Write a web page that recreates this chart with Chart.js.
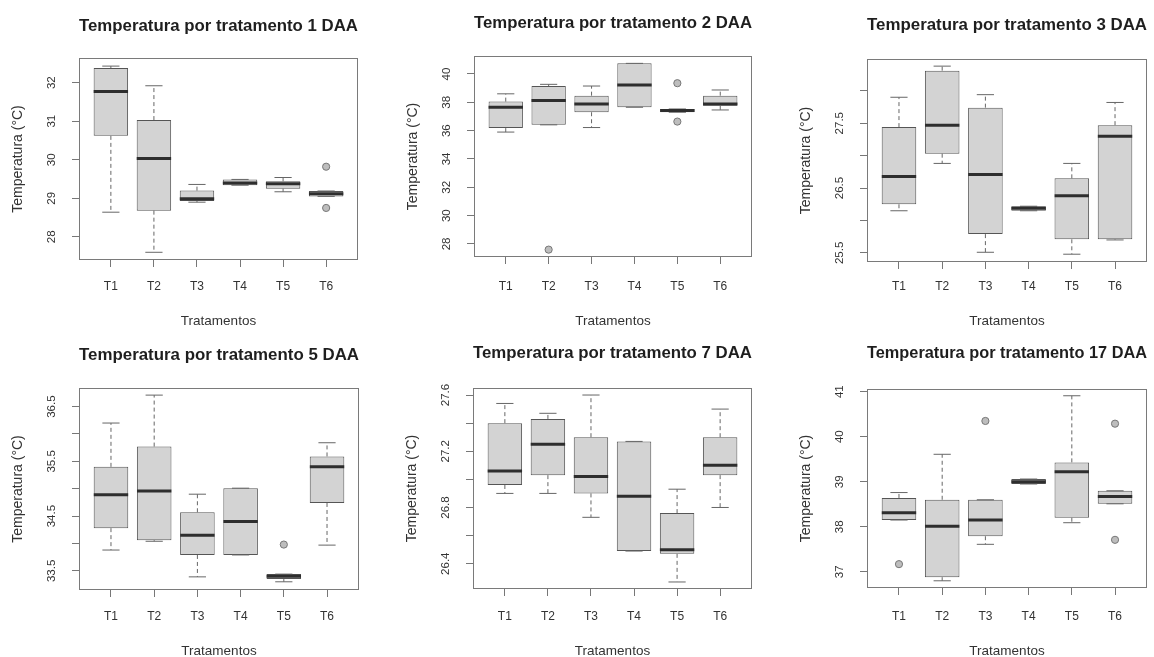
<!DOCTYPE html>
<html>
<head>
<meta charset="utf-8">
<script src="https://cdn.jsdelivr.net/npm/chart.js@4.4.1/dist/chart.umd.min.js"></script>
<style>
html,body{margin:0;padding:0;background:#fff;width:1154px;height:657px;overflow:hidden;position:relative}
canvas{position:absolute}
</style>
</head>
<body>
<canvas id="c0"></canvas><canvas id="c1"></canvas><canvas id="c2"></canvas>
<canvas id="c3"></canvas><canvas id="c4"></canvas><canvas id="c5"></canvas>
<script>
// ---------------- data ----------------
const CATEGORIES = ['T1', 'T2', 'T3', 'T4', 'T5', 'T6'];
const DAYS = [1, 2, 3, 5, 7, 17];
const X_RANGE = [0.26, 6.74];

// 1 DAA
const d1_lower  = [28.64, 27.60, 28.90, 29.34, 29.17, 29.05];
const d1_q1     = [30.62, 28.68, 28.93, 29.34, 29.25, 29.05];
const d1_median = [31.77, 30.03, 28.99, 29.40, 29.38, 29.12];
const d1_q3     = [32.38, 31.03, 29.20, 29.49, 29.44, 29.19];
const d1_upper  = [32.43, 31.92, 29.36, 29.49, 29.54, 29.19];
const d1_out    = [['T6', 29.82], ['T6', 28.75]];
const d1_yRange = [27.40, 32.64];
const d1_yTicks = [28, 29, 30, 31, 32];
const d1_yLabels = ['28', '29', '30', '31', '32'];

// 2 DAA
const d2_lower  = [35.90, 36.41, 36.22, 37.65, 37.30, 37.46];
const d2_q1     = [36.18, 36.41, 37.30, 37.65, 37.30, 37.75];
const d2_median = [37.65, 38.12, 37.89, 39.23, 37.42, 37.89];
const d2_q3     = [38.05, 39.15, 38.47, 40.75, 37.53, 38.47];
const d2_upper  = [38.60, 39.27, 39.15, 40.75, 37.53, 38.87];
const d2_out    = [['T2', 27.60], ['T5', 39.35], ['T5', 36.64]];
const d2_yRange = [27.08, 41.27];
const d2_yTicks = [28, 30, 32, 34, 36, 38, 40];
const d2_yLabels = ['28', '30', '32', '34', '36', '38', '40'];

// 3 DAA
const d3_lower  = [26.15, 26.88, 25.51, 26.15, 25.48, 25.70];
const d3_q1     = [26.25, 27.03, 25.79, 26.15, 25.71, 25.71];
const d3_median = [26.68, 27.47, 26.71, 26.19, 26.38, 27.30];
const d3_q3     = [27.44, 28.31, 27.74, 26.22, 26.65, 27.47];
const d3_upper  = [27.90, 28.38, 27.94, 26.22, 26.88, 27.82];
const d3_out    = [];
const d3_yRange = [25.36, 28.49];
const d3_yTicks = [25.5, 26, 26.5, 27, 27.5, 28];
const d3_yLabels = ['25.5', '', '26.5', '', '27.5', ''];

// 5 DAA
const d5_lower  = [33.88, 34.04, 33.39, 33.79, 33.30, 33.97];
const d5_q1     = [34.28, 34.06, 33.79, 33.79, 33.35, 34.74];
const d5_median = [34.89, 34.96, 34.15, 34.40, 33.40, 35.40];
const d5_q3     = [35.40, 35.77, 34.57, 35.01, 33.44, 35.59];
const d5_upper  = [36.20, 36.71, 34.90, 35.01, 33.44, 35.84];
const d5_out    = [['T5', 33.98]];
const d5_yRange = [33.15, 36.84];
const d5_yTicks = [33.5, 34, 34.5, 35, 35.5, 36, 36.5];
const d5_yLabels = ['33.5', '', '34.5', '', '35.5', '', '36.5'];

// 7 DAA
const d7_lower  = [26.90, 26.90, 26.73, 26.49, 26.27, 26.80];
const d7_q1     = [26.96, 27.03, 26.90, 26.49, 26.47, 27.03];
const d7_median = [27.06, 27.25, 27.02, 26.88, 26.50, 27.10];
const d7_q3     = [27.40, 27.43, 27.30, 27.27, 26.76, 27.30];
const d7_upper  = [27.54, 27.47, 27.60, 27.27, 26.93, 27.50];
const d7_out    = [];
const d7_yRange = [26.22, 27.65];
const d7_yTicks = [26.4, 26.6, 26.8, 27.0, 27.2, 27.4, 27.6];
const d7_yLabels = ['26.4', '', '26.8', '', '27.2', '', '27.6'];

// 17 DAA
const d17_lower  = [38.15, 36.80, 37.61, 38.95, 38.09, 38.51];
const d17_q1     = [38.15, 36.88, 37.79, 38.95, 38.20, 38.51];
const d17_median = [38.31, 38.01, 38.15, 39.00, 39.22, 38.67];
const d17_q3     = [38.64, 38.60, 38.60, 39.06, 39.43, 38.80];
const d17_upper  = [38.76, 39.61, 38.60, 39.06, 40.91, 38.80];
const d17_out    = [['T1', 37.17], ['T3', 40.35], ['T6', 40.29], ['T6', 37.71]];
const d17_yRange = [36.64, 41.06];
const d17_yTicks = [37, 38, 39, 40, 41];
const d17_yLabels = ['37', '38', '39', '40', '41'];

const PANELS = [
  {lo: d1_lower, q1: d1_q1, med: d1_median, q3: d1_q3, hi: d1_upper, out: d1_out, yr: d1_yRange, yt: d1_yTicks, yl: d1_yLabels},
  {lo: d2_lower, q1: d2_q1, med: d2_median, q3: d2_q3, hi: d2_upper, out: d2_out, yr: d2_yRange, yt: d2_yTicks, yl: d2_yLabels},
  {lo: d3_lower, q1: d3_q1, med: d3_median, q3: d3_q3, hi: d3_upper, out: d3_out, yr: d3_yRange, yt: d3_yTicks, yl: d3_yLabels},
  {lo: d5_lower, q1: d5_q1, med: d5_median, q3: d5_q3, hi: d5_upper, out: d5_out, yr: d5_yRange, yt: d5_yTicks, yl: d5_yLabels},
  {lo: d7_lower, q1: d7_q1, med: d7_median, q3: d7_q3, hi: d7_upper, out: d7_out, yr: d7_yRange, yt: d7_yTicks, yl: d7_yLabels},
  {lo: d17_lower, q1: d17_q1, med: d17_median, q3: d17_q3, hi: d17_upper, out: d17_out, yr: d17_yRange, yt: d17_yTicks, yl: d17_yLabels}
];

// ---------------- layout / style ----------------
const FONT = "'Liberation Sans', Arial, Helvetica, sans-serif";
const CW = 420, CH = 328;
const ORIGINS = [[0, 0], [385, 0], [770, 0], [0, 330], [385, 330], [770, 330]];
// plot area in canvas-local pixels: left, right, top, bottom
const AREAS = [[79, 358, 58, 260], [89, 367, 56, 257], [97, 377, 59, 262],
               [79, 359, 58, 260], [88, 367, 58, 259], [97, 377, 59, 258]];
const TITLE_Y = [26, 23, 25, 25, 23, 23];
const TITLE_SIZE = 17, TICK_SIZE = 11.5, XTICK_SIZE = 12;
const LINE_COL = '#666';

const measureCtx = document.createElement('canvas').getContext('2d');
measureCtx.font = `${TICK_SIZE}px ${FONT}`;

const framePlugin = {
  id: 'frame',
  afterDraw(chart) {
    const {ctx, chartArea: a} = chart;
    ctx.save();
    ctx.strokeStyle = '#7a7a7a';
    ctx.lineWidth = 1;
    ctx.strokeRect(Math.round(a.left) + 0.5, Math.round(a.top) + 0.5,
                   Math.round(a.right - a.left) - 1, Math.round(a.bottom - a.top) - 1);
    ctx.restore();
  }
};

PANELS.forEach((p, i) => {
  const cv = document.getElementById('c' + i);
  cv.width = CW; cv.height = CH;
  cv.style.left = ORIGINS[i][0] + 'px';
  cv.style.top = ORIGINS[i][1] + 'px';
  const [L, R, T, B] = AREAS[i];
  const ty = TITLE_Y[i];
  const xs = CATEGORIES.map((c, k) => k + 1);
  const xOf = name => CATEGORIES.indexOf(name) + 1;

  const whiskers = [];
  xs.forEach((x, k) => {
    whiskers.push({x, y: p.q3[k]}, {x, y: p.hi[k]}, {x, y: null},
                  {x, y: p.q1[k]}, {x, y: p.lo[k]}, {x, y: null});
  });
  const caps = [];
  xs.forEach((x, k) => { caps.push({x, y: p.hi[k]}, {x, y: p.lo[k]}); });
  const boxes = xs.map((x, k) => ({x, y: [p.q1[k], p.q3[k]]}));
  const medians = xs.map((x, k) => ({x, y: p.med[k]}));
  const outliers = p.out.map(o => ({x: xOf(o[0]), y: o[1]}));

  const widest = Math.max(...p.yl.map(s => measureCtx.measureText(s).width));
  const yPad = 27.3 - 7 - widest / 2;
  const tLH = TITLE_SIZE * 1.2;
  const xLabelLH = 2 * (287 - B - 7);

  new Chart(cv, {
    type: 'bar',
    data: {
      datasets: [
        {type: 'line', data: whiskers, borderColor: LINE_COL, borderWidth: 1, borderDash: [4, 3],
         pointRadius: 0, spanGaps: false, order: 5},
        {type: 'bar', data: boxes, backgroundColor: '#d3d3d3', borderColor: '#555', borderWidth: 1,
         borderSkipped: false, categoryPercentage: 0.8, barPercentage: 1, order: 4},
        {type: 'line', data: caps, showLine: false, pointStyle: 'line', pointRadius: 8.6,
         borderColor: LINE_COL, pointBorderColor: LINE_COL, pointBorderWidth: 1, order: 3},
        {type: 'line', data: medians, showLine: false, pointStyle: 'line', pointRadius: 17.2,
         borderColor: '#2e2e2e', pointBorderColor: '#2e2e2e', pointBorderWidth: 3, order: 2},
        {type: 'line', data: outliers, showLine: false, pointStyle: 'circle', pointRadius: 3.6,
         borderColor: '#777', pointBackgroundColor: '#bdbdbd', pointBorderColor: '#777',
         pointBorderWidth: 1, order: 1}
      ]
    },
    options: {
      responsive: false,
      animation: false,
      devicePixelRatio: 1,
      events: [],
      layout: {padding: {left: L - 79, right: CW - R, top: 0, bottom: 0}},
      plugins: {
        legend: {display: false},
        tooltip: {enabled: false},
        title: {
          display: true,
          text: `Temperatura por tratamento ${DAYS[i]} DAA`,
          fullSize: false,
          color: '#1e1e1e',
          font: {family: FONT, size: TITLE_SIZE, weight: 'bold', lineHeight: 1.2},
          padding: {top: ty - tLH / 2, bottom: T - ty - tLH / 2}
        }
      },
      scales: {
        x: {
          type: 'linear',
          min: X_RANGE[0], max: X_RANGE[1],
          offset: false,
          grid: {display: true, offset: false, drawOnChartArea: false, drawTicks: true, tickLength: 7, color: '#777'},
          border: {display: false},
          ticks: {
            autoSkip: false, maxRotation: 0, minRotation: 0,
            padding: 0,
            color: '#333',
            font: {family: FONT, size: XTICK_SIZE, lineHeight: xLabelLH + 'px'},
            callback: v => CATEGORIES[Math.round(v) - 1] || ''
          },
          title: {display: true, text: 'Tratamentos', color: '#333',
                  font: {family: FONT, size: 13.5, lineHeight: 1}, padding: {top: 0, bottom: 0}},
          afterBuildTicks: s => { s.ticks = xs.map(v => ({value: v})); },
          afterFit: s => { s.height = CH - B; }
        },
        y: {
          type: 'linear',
          min: p.yr[0], max: p.yr[1],
          bounds: 'data',
          grid: {display: true, offset: false, drawOnChartArea: false, drawTicks: true, tickLength: 7, color: '#777'},
          border: {display: false},
          ticks: {
            autoSkip: false, minRotation: 90, maxRotation: 90, crossAlign: 'center',
            padding: yPad,
            color: '#333',
            font: {family: FONT, size: TICK_SIZE},
            callback: (v, idx) => p.yl[idx]
          },
          title: {display: true, text: 'Temperatura (°C)', color: '#333',
                  font: {family: FONT, size: 14, lineHeight: 1}, padding: {top: 11.5, bottom: 0}},
          afterBuildTicks: s => { s.ticks = p.yt.map(v => ({value: v})); },
          afterFit: s => { s.width = 79; }
        }
      }
    },
    plugins: [framePlugin]
  });
});
</script>
</body>
</html>
